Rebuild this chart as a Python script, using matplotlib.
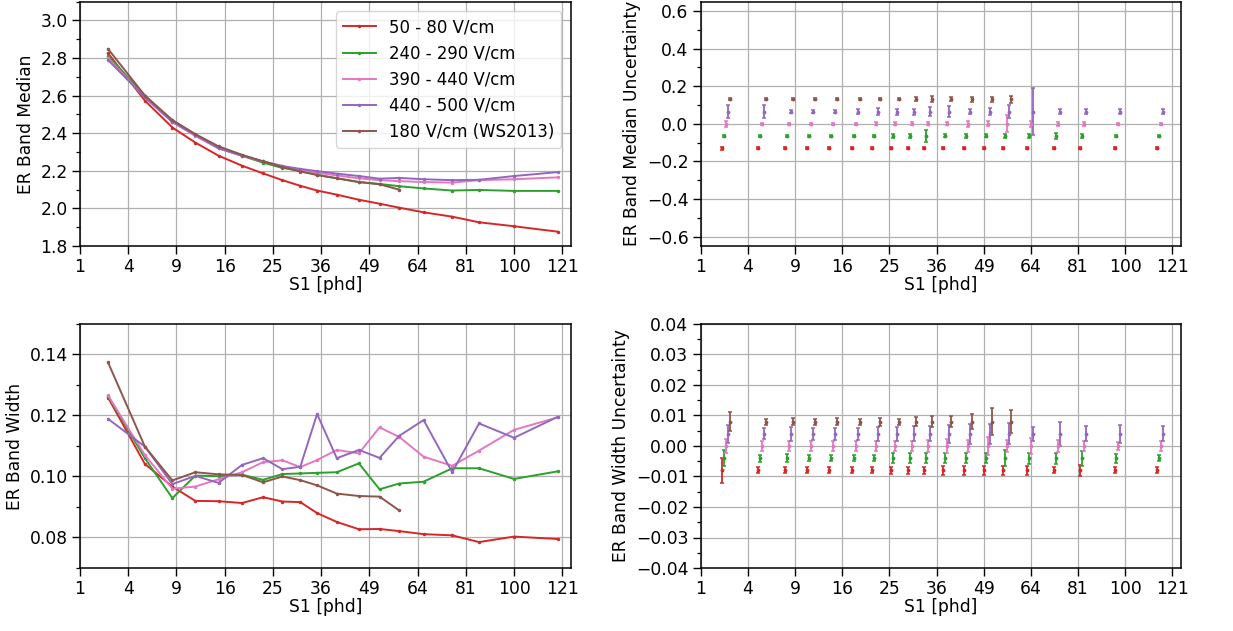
import numpy as np
import matplotlib
matplotlib.use("Agg")
import matplotlib.pyplot as plt
from matplotlib.ticker import AutoMinorLocator, NullLocator, MultipleLocator

# S1 bin centres (phd)
s1 = [2.5, 5.5, 8.5, 11.5, 15, 19, 23, 27, 31, 35, 40, 46, 52, 58, 66, 76, 86, 100, 119]
# x positions of the uncertainty points (central series), right panels
s1_unc = [2.38, 5.29, 8.21, 11.1, 14.48, 18.37, 22.24, 26.13, 30.02, 33.86, 38.79,
          44.53, 50.37, 56.16, 63.94, 73.65, 83.43, 97.12, 115.5]

labels = ['50 - 80 V/cm', '240 - 290 V/cm', '390 - 440 V/cm', '440 - 500 V/cm', '180 V/cm (WS2013)']
colors = ['tab:red', 'tab:green', 'tab:pink', 'tab:purple', 'tab:brown']

# ER band median
med_red = [2.825, 2.573, 2.43, 2.35, 2.28, 2.227, 2.186, 2.15, 2.12, 2.095, 2.073, 2.046,
           2.025, 2.004, 1.979, 1.956, 1.926, 1.905, 1.876]
med_green = [2.81, 2.60, 2.46, 2.39, 2.32, 2.28, 2.243, 2.215, 2.20, 2.178, 2.16, 2.14,
             2.13, 2.118, 2.106, 2.095, 2.098, 2.093, 2.093]
med_pink = [2.80, 2.59, 2.46, 2.385, 2.32, 2.28, 2.25, 2.225, 2.205, 2.19, 2.175, 2.16,
            2.15, 2.145, 2.14, 2.137, 2.15, 2.155, 2.165]
med_purple = [2.789, 2.59, 2.46, 2.39, 2.32, 2.28, 2.25, 2.225, 2.21, 2.198, 2.185, 2.172,
              2.158, 2.162, 2.155, 2.15, 2.152, 2.172, 2.193]
med_brown = [2.848, 2.60, 2.47, 2.395, 2.33, 2.285, 2.25, 2.22, 2.196, 2.178, 2.16, 2.14,
             2.128, 2.10]

# ER band width
wid_red = [0.1259, 0.1041, 0.0967, 0.092, 0.0919, 0.0913, 0.0932, 0.0918, 0.0916, 0.088,
           0.0851, 0.0827, 0.0828, 0.0821, 0.0811, 0.0807, 0.0785, 0.0803, 0.0795]
wid_green = [0.1264, 0.106, 0.0929, 0.1003, 0.1001, 0.1006, 0.0989, 0.1008, 0.101, 0.1012,
             0.1014, 0.1043, 0.0958, 0.0977, 0.0983, 0.1027, 0.1027, 0.0992, 0.1017]
wid_pink = [0.1266, 0.107, 0.096, 0.0967, 0.0991, 0.1014, 0.1047, 0.1053, 0.1031, 0.1054,
            0.1087, 0.1076, 0.1161, 0.113, 0.1065, 0.1035, 0.1085, 0.1153, 0.1194]
wid_purple = [0.1189, 0.1098, 0.0975, 0.1002, 0.0979, 0.1038, 0.106, 0.1024, 0.1032, 0.1205,
              0.106, 0.1087, 0.1061, 0.1133, 0.1185, 0.1014, 0.1174, 0.1127, 0.1196]
wid_brown = [0.1374, 0.1098, 0.0987, 0.1014, 0.1007, 0.1005, 0.0981, 0.1, 0.0988, 0.0971,
             0.0944, 0.0936, 0.0934, 0.0889]

# uncertainty on the median
mu_red = [0.008, 0.005, 0.004, 0.004, 0.004, 0.004, 0.004, 0.005, 0.005, 0.004, 0.004,
          0.004, 0.004, 0.004, 0.004, 0.004, 0.004, 0.004, 0.004]
mu_green = [0.007, 0.005, 0.006, 0.006, 0.006, 0.006, 0.006, 0.01, 0.012, 0.034, 0.008,
            0.011, 0.008, 0.01, 0.01, 0.014, 0.013, 0.007, 0.006]
mu_pink = [0.015, 0.006, 0.005, 0.005, 0.006, 0.006, 0.007, 0.007, 0.007, 0.007, 0.008,
           0.015, 0.013, 0.044, 0.015, 0.01, 0.01, 0.006, 0.006]
mu_purple = [0.036, 0.035, 0.008, 0.008, 0.008, 0.014, 0.018, 0.016, 0.016, 0.025, 0.028,
             0.015, 0.018, 0.035, 0.123, 0.015, 0.015, 0.015, 0.012]
mu_brown = [0.005, 0.005, 0.005, 0.005, 0.005, 0.005, 0.005, 0.005, 0.01, 0.015, 0.01,
            0.012, 0.013, 0.018]

# uncertainty on the width
wu_red = [0.0041, 0.001, 0.001, 0.001, 0.001, 0.001, 0.001, 0.0012, 0.0012, 0.0012, 0.0015,
          0.0015, 0.0015, 0.0015, 0.0015, 0.001, 0.0018, 0.001, 0.001]
wu_green = [0.0027, 0.0012, 0.0013, 0.001, 0.001, 0.001, 0.001, 0.0017, 0.0017, 0.0017,
            0.0017, 0.0017, 0.0017, 0.0027, 0.0018, 0.0018, 0.0024, 0.0015, 0.001]
wu_pink = [0.0022, 0.0015, 0.0018, 0.0015, 0.0015, 0.0015, 0.0018, 0.0015, 0.0017, 0.002,
           0.0023, 0.002, 0.003, 0.002, 0.0025, 0.002, 0.0018, 0.0013, 0.0018]
wu_purple = [0.003, 0.0018, 0.0022, 0.002, 0.002, 0.002, 0.0022, 0.0022, 0.0025, 0.0025,
             0.003, 0.0033, 0.0033, 0.0035, 0.0022, 0.004, 0.0025, 0.003, 0.0025]
wu_brown = [0.003, 0.001, 0.0012, 0.001, 0.0012, 0.001, 0.0013, 0.001, 0.0016, 0.0018,
            0.0018, 0.0025, 0.0045, 0.0038]

medians = [med_red, med_green, med_pink, med_purple, med_brown]
widths = [wid_red, wid_green, wid_pink, wid_purple, wid_brown]
med_unc = [mu_red, mu_green, mu_pink, mu_purple, mu_brown]
wid_unc = [wu_red, wu_green, wu_pink, wu_purple, wu_brown]

plt.rcParams['font.size'] = 12.3

fig = plt.figure(figsize=(12.33, 6.31), dpi=100)
W, H = 1233, 631
ax_med = fig.add_axes([80 / W, 1 - 246 / H, 491 / W, 244.5 / H])
ax_medu = fig.add_axes([700.7 / W, 1 - 246 / H, 480.3 / W, 244.5 / H])
ax_wid = fig.add_axes([80 / W, 1 - 568 / H, 491 / W, 244 / H])
ax_widu = fig.add_axes([700.7 / W, 1 - 568 / H, 480.3 / W, 244 / H])


def sqrt_axis(ax):
    ax.set_xscale('function', functions=(lambda x: np.sqrt(np.clip(x, 0, None)), np.square))
    ax.set_xlim(1, 125)
    ax.set_xticks([1, 4, 9, 16, 25, 36, 49, 64, 81, 100, 121])
    ax.set_xticklabels(['1', '4', '9', '16', '25', '36', '49', '64', '81', '100', '121'])
    ax.xaxis.set_minor_locator(NullLocator())
    ax.yaxis.set_minor_locator(AutoMinorLocator(2))
    ax.grid(True, which='major', color='#b0b0b0', linewidth=0.9)
    ax.set_axisbelow(True)
    ax.tick_params(which='major', length=5.8, width=1.0, pad=3)
    ax.tick_params(which='minor', length=3, width=0.9)
    ax.set_xlabel('S1 [phd]', labelpad=0)
    for sp in ax.spines.values():
        sp.set_linewidth(1.1)


# left column: the bands themselves
for i in range(5):
    n = len(medians[i])
    ax_med.plot(s1[:n], medians[i], color=colors[i], marker='.', markersize=3,
                linewidth=1.4, label=labels[i])
    ax_wid.plot(s1[:n], widths[i], color=colors[i], marker='.', markersize=3,
                linewidth=1.4, label=labels[i])

# right column: uncertainties, staggered per series
med_off = [-0.13, -0.065, 0.0, 0.065, 0.13]
wid_off = [-0.008, -0.004, 0.0, 0.004, 0.008]
for i in range(5):
    n = len(med_unc[i])
    xs = (np.sqrt(s1_unc[:n]) + (i - 2) * 0.042) ** 2
    ax_medu.errorbar(xs, np.full(n, med_off[i]), yerr=med_unc[i], fmt='.', color=colors[i],
                     markersize=3.5, capsize=1.6, elinewidth=1.3, capthick=1.1)
    ax_widu.errorbar(xs, np.full(n, wid_off[i]), yerr=wid_unc[i], fmt='.', color=colors[i],
                     markersize=3.5, capsize=1.6, elinewidth=1.3, capthick=1.1)

for ax in (ax_med, ax_medu, ax_wid, ax_widu):
    sqrt_axis(ax)

ax_med.set_ylim(1.8, 3.1)
ax_med.yaxis.set_major_locator(MultipleLocator(0.2))
ax_med.set_ylabel('ER Band Median')
ax_med.legend(loc='upper right', fontsize=11.9, framealpha=0.8, borderaxespad=0.6,
              labelspacing=0.5)

ax_medu.set_ylim(-0.65, 0.65)
ax_medu.yaxis.set_major_locator(MultipleLocator(0.2))
ax_medu.set_ylabel('ER Band Median Uncertainty')

ax_wid.set_ylim(0.07, 0.15)
ax_wid.yaxis.set_major_locator(MultipleLocator(0.02))
ax_wid.set_ylabel('ER Band Width')

ax_widu.set_ylim(-0.04, 0.04)
ax_widu.yaxis.set_major_locator(MultipleLocator(0.01))
ax_widu.set_ylabel('ER Band Width Uncertainty')

fig.savefig('out.png', dpi=100)
